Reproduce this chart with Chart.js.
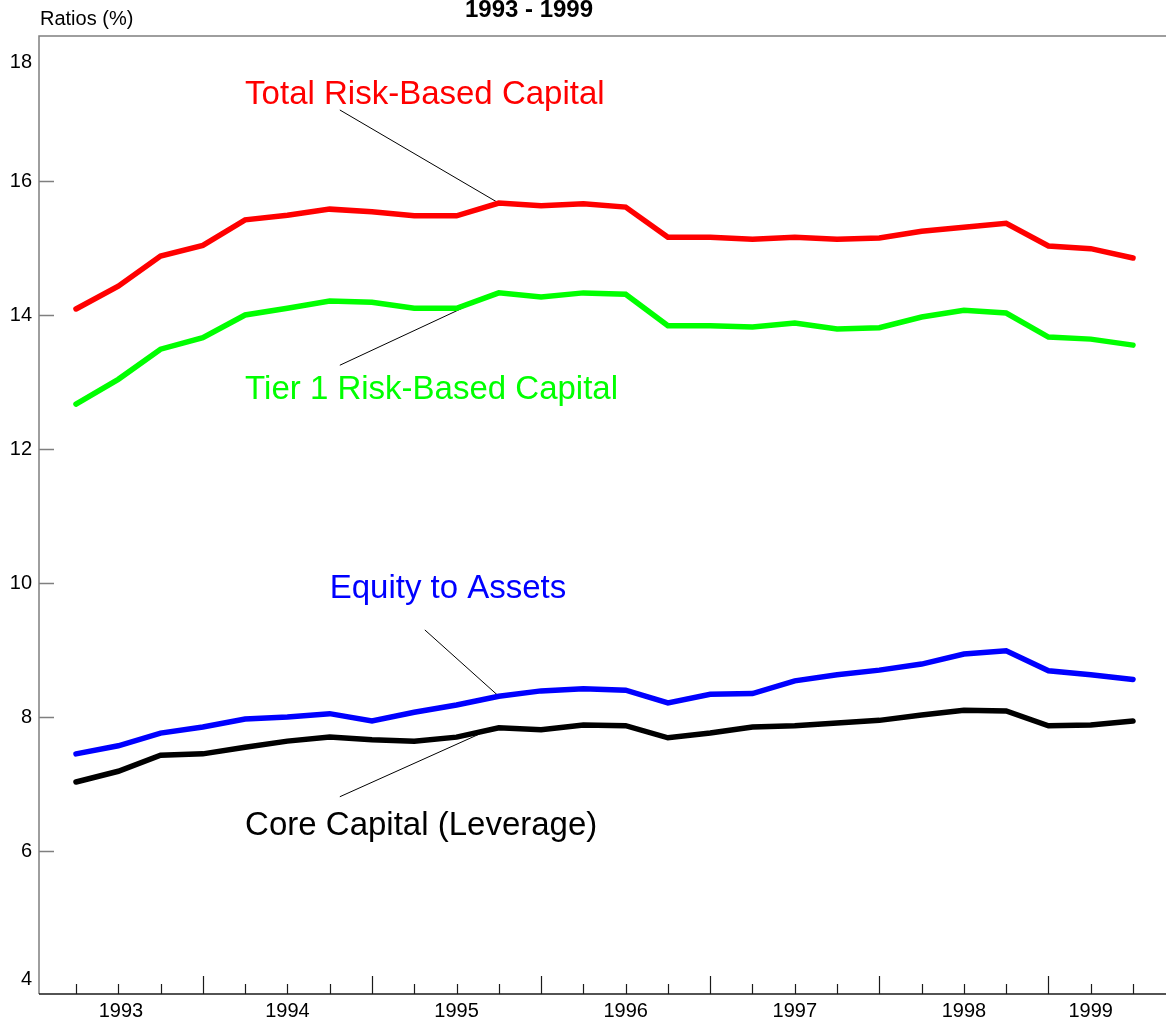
<!DOCTYPE html>
<html>
<head>
<meta charset="utf-8">
<script src="https://cdn.jsdelivr.net/npm/chart.js@4/dist/chart.umd.min.js"></script>
<style>
  html, body { margin: 0; padding: 0; background: #ffffff; }
  #wrap { width: 1166px; height: 1023px; }
</style>
</head>
<body>
<div id="wrap"><canvas id="c" width="1166" height="1023"></canvas></div>
<script>
// Quarterly capital ratios, 1993 Q1 - 1999 Q2 (percent)
const quarters = [
  '1993 Q1','1993 Q2','1993 Q3','1993 Q4',
  '1994 Q1','1994 Q2','1994 Q3','1994 Q4',
  '1995 Q1','1995 Q2','1995 Q3','1995 Q4',
  '1996 Q1','1996 Q2','1996 Q3','1996 Q4',
  '1997 Q1','1997 Q2','1997 Q3','1997 Q4',
  '1998 Q1','1998 Q2','1998 Q3','1998 Q4',
  '1999 Q1','1999 Q2'
];
const years = ['1993','1994','1995','1996','1997','1998','1999'];
const yTicks = [4, 6, 8, 10, 12, 14, 16, 18];

const totalRiskBased = [14.09, 14.43, 14.88, 15.04, 15.42, 15.49, 15.58, 15.54, 15.48, 15.48,
                        15.67, 15.63, 15.66, 15.61, 15.16, 15.16, 15.13, 15.16, 15.13, 15.15,
                        15.25, 15.31, 15.37, 15.03, 14.99, 14.85];
const tier1RiskBased = [12.67, 13.04, 13.49, 13.66, 14.00, 14.10, 14.21, 14.19, 14.10, 14.10,
                        14.33, 14.27, 14.33, 14.31, 13.84, 13.84, 13.82, 13.88, 13.79, 13.81,
                        13.97, 14.07, 14.03, 13.67, 13.64, 13.55];
const equityToAssets = [7.45, 7.57, 7.76, 7.85, 7.97, 8.00, 8.05, 7.94, 8.07, 8.18,
                        8.31, 8.39, 8.42, 8.40, 8.21, 8.34, 8.35, 8.54, 8.63, 8.70,
                        8.79, 8.94, 8.99, 8.69, 8.63, 8.56];
const coreCapital = [7.03, 7.19, 7.43, 7.45, 7.55, 7.64, 7.70, 7.66, 7.64, 7.70,
                     7.84, 7.81, 7.88, 7.87, 7.69, 7.76, 7.85, 7.87, 7.91, 7.95,
                     8.03, 8.10, 8.09, 7.87, 7.88, 7.94];

const FONT = '"Liberation Sans", Arial, Helvetica, sans-serif';

// Series labels with their leader lines (label anchor and line start in data units,
// line end on a point of the series)
const seriesNotes = [
  { ds: 0, text: 'Total Risk-Based Capital',   color: '#ff0000', at: [4.0, 17.15], from: [6.24, 17.06], to: 10 },
  { ds: 1, text: 'Tier 1 Risk-Based Capital',  color: '#00ff00', at: [4.0, 12.75], from: [6.24, 13.25], to: 9.6 },
  { ds: 2, text: 'Equity to Assets',           color: '#0000ff', at: [6.0, 9.78],  from: [8.25, 9.30],  to: 10 },
  { ds: 3, text: 'Core Capital (Leverage)',    color: '#000000', at: [4.0, 6.24],  from: [6.24, 6.81],  to: 9.75 }
];

function series(values) { return values.map((v, i) => ({ x: i, y: v })); }
function lineSet(label, values, color) {
  return {
    label, data: series(values), borderColor: color, backgroundColor: color,
    borderWidth: 5.5, pointRadius: 0, tension: 0, fill: false,
    borderCapStyle: 'round', borderJoinStyle: 'miter'
  };
}

function valueAt(values, pos) {
  const i0 = Math.floor(pos), i1 = Math.min(values.length - 1, i0 + 1);
  const t = pos - i0;
  return values[i0] + (values[i1] - values[i0]) * t;
}

const allSeries = [totalRiskBased, tier1RiskBased, equityToAssets, coreCapital];

const frame = {
  id: 'frame',
  beforeDatasetsDraw(chart) {
    const { ctx, scales: { x, y } } = chart;
    ctx.save();
    ctx.strokeStyle = '#000000';
    ctx.lineWidth = 1;
    seriesNotes.forEach(n => {
      const vals = allSeries[n.ds];
      ctx.beginPath();
      ctx.moveTo(x.getPixelForValue(n.from[0]), y.getPixelForValue(n.from[1]));
      ctx.lineTo(x.getPixelForValue(n.to), y.getPixelForValue(valueAt(vals, n.to)));
      ctx.stroke();
    });
    ctx.restore();
  },
  afterDraw(chart) {
    const { ctx, chartArea: a, scales: { x, y } } = chart;
    ctx.save();
    // frame: left and top in grey, bottom axis dark
    ctx.lineWidth = 1.5;
    ctx.strokeStyle = '#7f7f7f';
    ctx.beginPath();
    ctx.moveTo(a.left, a.bottom);
    ctx.lineTo(a.left, a.top);
    ctx.lineTo(a.right, a.top);
    ctx.stroke();
    ctx.strokeStyle = '#1a1a1a';
    ctx.beginPath();
    ctx.moveTo(a.left, a.bottom);
    ctx.lineTo(a.right, a.bottom);
    ctx.stroke();

    // quarter ticks, taller at year boundaries
    ctx.lineWidth = 1.2;
    ctx.strokeStyle = '#1a1a1a';
    quarters.forEach((q, i) => {
      const px = Math.round(x.getPixelForValue(i)) + 0.5;
      const len = (q.endsWith('Q4')) ? 18 : 10;
      ctx.beginPath();
      ctx.moveTo(px, a.bottom);
      ctx.lineTo(px, a.bottom - len);
      ctx.stroke();
    });

    // year labels, centred on each year's span of the axis
    ctx.fillStyle = '#000000';
    ctx.font = '20px ' + FONT;
    ctx.textAlign = 'center';
    ctx.textBaseline = 'alphabetic';
    years.forEach(yr => {
      const idx = quarters.map((q, i) => q.startsWith(yr) ? i : -1).filter(i => i >= 0);
      const first = Math.max(x.min, idx[0] - 1), last = idx[idx.length - 1];
      const cx = (x.getPixelForValue(first) + x.getPixelForValue(last)) / 2;
      ctx.fillText(yr, cx, a.bottom + 23);
    });

    // value ticks inside the frame and their labels
    ctx.textAlign = 'right';
    ctx.textBaseline = 'middle';
    yTicks.forEach(v => {
      let py = y.getPixelForValue(v);
      if (v > y.min + 0.5 && v < y.max - 0.5) {
        ctx.strokeStyle = '#7f7f7f';
        ctx.lineWidth = 1.5;
        ctx.beginPath();
        ctx.moveTo(a.left, Math.round(py) + 0.5);
        ctx.lineTo(a.left + 15, Math.round(py) + 0.5);
        ctx.stroke();
      }
      let ly = py;
      if (v === yTicks[yTicks.length - 1]) ly = py + 15;
      if (v === yTicks[0]) ly = py - 6;
      ctx.fillText(String(v), a.left - 7, ly);
    });

    // axis caption and heading
    ctx.textAlign = 'left';
    ctx.textBaseline = 'alphabetic';
    ctx.font = '20px ' + FONT;
    ctx.fillText('Ratios (%)', 40, 25);
    ctx.font = 'bold 24px ' + FONT;
    ctx.textAlign = 'center';
    ctx.fillText('1993 - 1999', 529, 17);

    // series labels
    ctx.textAlign = 'left';
    ctx.font = '33px ' + FONT;
    seriesNotes.forEach(n => {
      ctx.fillStyle = n.color;
      ctx.fillText(n.text, x.getPixelForValue(n.at[0]), y.getPixelForValue(n.at[1]));
    });
    ctx.restore();
  }
};

new Chart(document.getElementById('c'), {
  type: 'line',
  data: {
    labels: quarters,
    datasets: [
      lineSet('Total Risk-Based Capital', totalRiskBased, '#ff0000'),
      lineSet('Tier 1 Risk-Based Capital', tier1RiskBased, '#00ff00'),
      lineSet('Equity to Assets', equityToAssets, '#0000ff'),
      lineSet('Core Capital (Leverage)', coreCapital, '#000000')
    ]
  },
  options: {
    responsive: false,
    animation: false,
    devicePixelRatio: 1,
    layout: { padding: { left: 39, top: 36, right: 0, bottom: 29 } },
    plugins: { legend: { display: false }, tooltip: { enabled: false }, title: { display: false } },
    scales: {
      x: { type: 'linear', min: -0.875, max: 25.78, display: false },
      y: { type: 'linear', min: 3.866, max: 18.164, display: false }
    }
  },
  plugins: [frame]
});
</script>
</body>
</html>
